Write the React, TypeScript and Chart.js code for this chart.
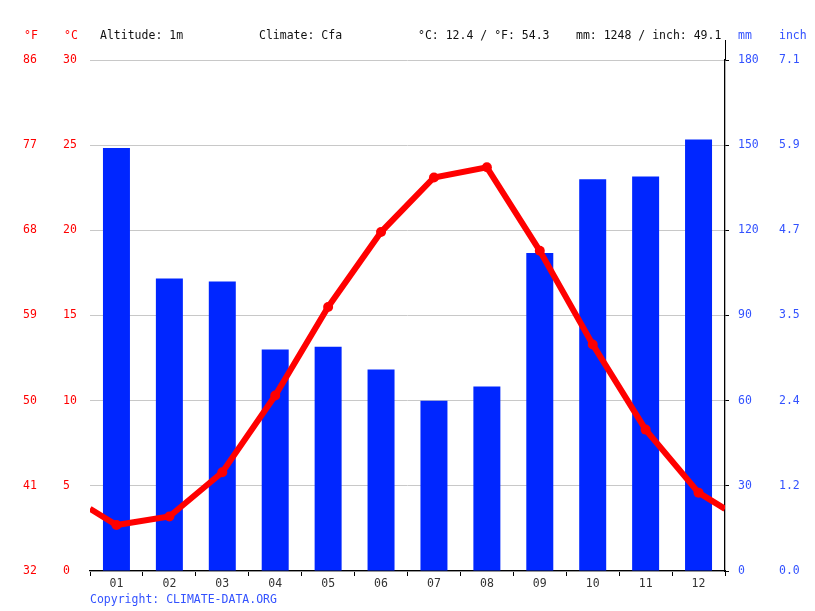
import React, { useEffect, useRef } from "react";
import { Chart, registerables } from "chart.js";

Chart.register(...registerables);

const months = ["01", "02", "03", "04", "05", "06", "07", "08", "09", "10", "11", "12"];
const precipitationMm = [149, 103, 102, 78, 79, 71, 60, 65, 112, 138, 139, 152];
const temperatureC = [2.7, 3.2, 5.8, 10.3, 15.5, 19.9, 23.1, 23.7, 18.8, 13.3, 8.3, 4.6];
const headerTexts = ["Altitude: 1m", "Climate: Cfa", "°C: 12.4 / °F: 54.3", "mm: 1248 / inch: 49.1"];
const copyrightText = "Copyright: CLIMATE-DATA.ORG";

const FONT = "'DejaVu Sans Mono', monospace";
const RED = "#ff0000";
const BLUE = "#3352ff";
const BAR_BLUE = "#0026ff";

export default function App() {
  const ref = useRef<HTMLCanvasElement | null>(null);

  useEffect(() => {
    if (!ref.current) return;
    const edge = (temperatureC[0] + temperatureC[11]) / 2;
    const lineData = [
      { x: 0, y: edge },
      ...temperatureC.map((t, i) => ({ x: i + 0.5, y: t })),
      { x: 12, y: edge },
    ];
    const radii = lineData.map((_, i) => (i === 0 || i === lineData.length - 1 ? 0 : 5));

    const textPlugin = {
      id: "texts",
      afterDraw(chart: any) {
        const ctx = chart.ctx;
        const ca = chart.chartArea;
        ctx.save();
        ctx.strokeStyle = "#000";
        ctx.lineWidth = 1;
        ctx.beginPath();
        ctx.moveTo(ca.right + 0.5, 40);
        ctx.lineTo(ca.right + 0.5, ca.top);
        ctx.stroke();
        ctx.font = `11.5px ${FONT}`;
        ctx.textBaseline = "middle";
        ctx.textAlign = "left";
        ctx.fillStyle = RED;
        ctx.fillText("°F", 24, 36);
        ctx.fillText("°C", 64, 36);
        ctx.fillStyle = BLUE;
        ctx.fillText("mm", 738, 36);
        ctx.fillText("inch", 779, 36);
        ctx.fillStyle = "#111";
        ctx.fillText(headerTexts[0], 100, 36);
        ctx.fillText(headerTexts[1], 259, 36);
        ctx.fillText(headerTexts[2], 418, 36);
        ctx.fillText(headerTexts[3], 576, 36);
        ctx.fillStyle = BLUE;
        ctx.fillText(copyrightText, 90, 600);
        ctx.restore();
      },
    };

    const chart = new Chart(ref.current, {
      type: "bar",
      data: {
        labels: months,
        datasets: [
          {
            type: "line",
            data: lineData as any,
            xAxisID: "x2",
            yAxisID: "y",
            borderColor: RED,
            backgroundColor: RED,
            borderWidth: 6,
            pointRadius: radii,
            pointBackgroundColor: RED,
            pointBorderWidth: 0,
            tension: 0,
            order: 0,
          } as any,
          {
            type: "bar",
            data: precipitationMm,
            xAxisID: "x",
            yAxisID: "yMM",
            backgroundColor: BAR_BLUE,
            categoryPercentage: 1,
            barPercentage: 0.51,
            grouped: false,
            order: 1,
          } as any,
        ],
      },
      options: {
        responsive: false,
        animation: false,
        layout: { padding: { left: 23, top: 60, right: 0, bottom: 0 } },
        plugins: { legend: { display: false }, tooltip: { enabled: false } },
        scales: {
          x: {
            type: "category",
            offset: true,
            grid: { display: true, drawOnChartArea: false, drawTicks: true, tickLength: 5, color: "#000", offset: true },
            border: { display: true, color: "#000", width: 1.3 },
            ticks: { color: "#333", font: { family: FONT, size: 11.5 }, padding: 1, maxRotation: 0 },
            afterFit: (s: any) => { s.height = 40; },
          },
          x2: { type: "linear", min: 0, max: 12, display: false, offset: false, grid: { offset: false } },
          y: {
            position: "left",
            weight: 0,
            min: 0,
            max: 30,
            ticks: { stepSize: 5, color: RED, font: { family: FONT, size: 11.5 }, crossAlign: "far", padding: 0 },
            grid: { color: "#c8c8c8", drawTicks: false },
            border: { display: false },
            afterFit: (s: any) => { s.width = 27; },
          },
          yF: {
            position: "left",
            weight: 1,
            min: 32,
            max: 86,
            ticks: { stepSize: 9, color: RED, font: { family: FONT, size: 11.5 }, crossAlign: "far", padding: 0 },
            grid: { display: false, drawTicks: false },
            border: { display: false },
            afterFit: (s: any) => { s.width = 40; },
          },
          yMM: {
            position: "right",
            weight: 0,
            min: 0,
            max: 180,
            ticks: { stepSize: 30, color: BLUE, font: { family: FONT, size: 11.5 }, padding: 9 },
            grid: { drawOnChartArea: false, drawTicks: true, tickLength: 4, color: "#000" },
            border: { display: true, color: "#000", width: 1.3 },
            afterFit: (s: any) => { s.width = 54; },
          },
          yIn: {
            position: "right",
            weight: 1,
            min: 0,
            max: 180,
            ticks: {
              stepSize: 30,
              color: BLUE,
              font: { family: FONT, size: 11.5 },
              padding: 0,
              callback: (v: any) => (Number(v) / 25.4).toFixed(1),
            },
            grid: { display: false, drawTicks: false },
            border: { display: false },
            afterFit: (s: any) => { s.width = 36; },
          },
        } as any,
      },
      plugins: [textPlugin],
    });
    return () => chart.destroy();
  }, []);

  return (
    <div style={{ position: "absolute", left: 0, top: 0, width: 815, height: 611, background: "#fff" }}>
      <canvas ref={ref} width={815} height={611} style={{ display: "block" }} />
    </div>
  );
}
